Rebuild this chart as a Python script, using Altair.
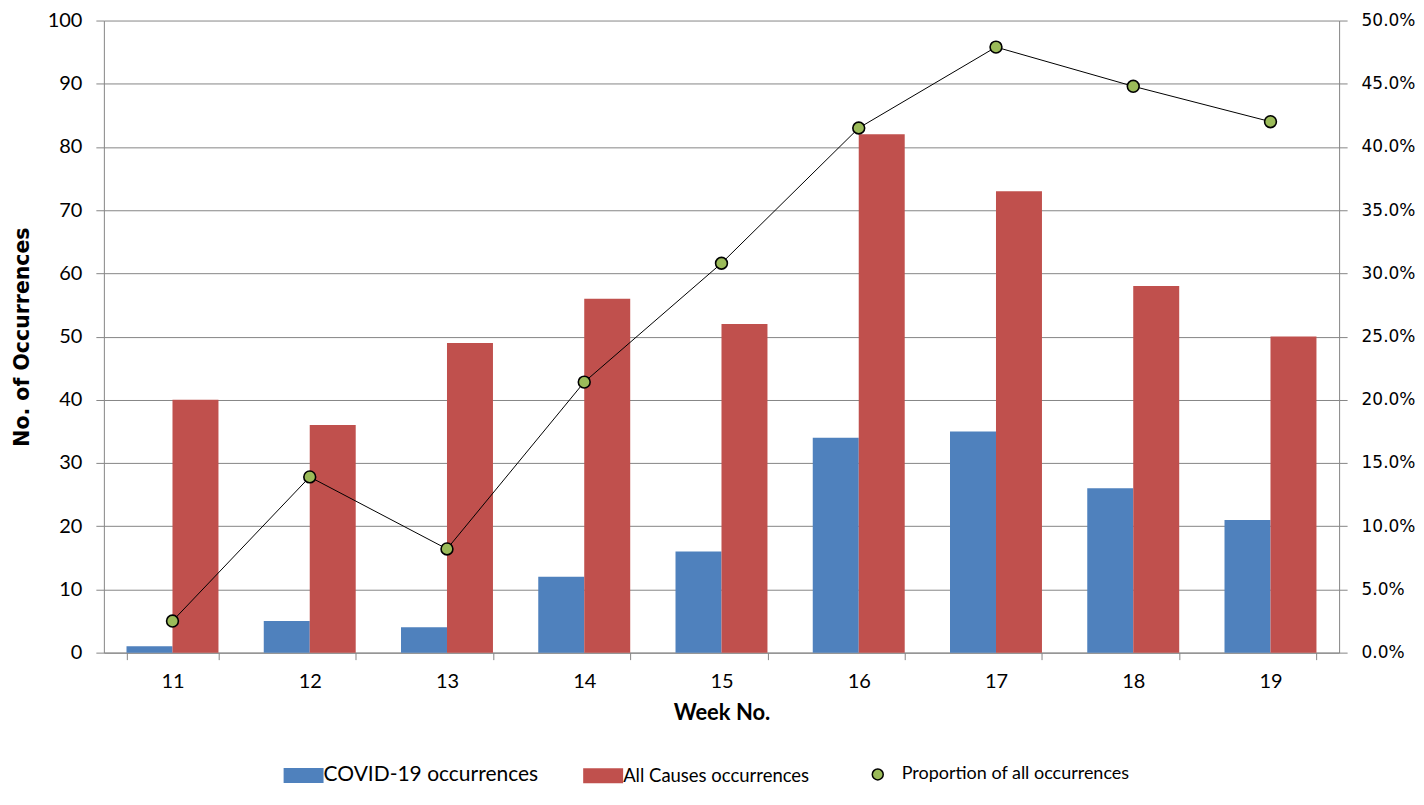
import altair as alt
import pandas as pd

weeks = ["11", "12", "13", "14", "15", "16", "17", "18", "19"]
covid = [1, 5, 4, 12, 16, 34, 35, 26, 21]
all_causes = [40, 36, 49, 56, 52, 82, 73, 58, 50]
proportion = [0.025, 0.139, 0.082, 0.214, 0.308, 0.415, 0.479, 0.448, 0.420]

s_covid = "COVID-19 occurrences"
s_all = "All Causes occurrences"
s_prop = "Proportion of all occurrences"

bars_df = pd.DataFrame({
    "week": weeks * 2,
    "series": [s_covid] * len(weeks) + [s_all] * len(weeks),
    "value": covid + all_causes,
})
prop_df = pd.DataFrame({"week": weeks, "prop": proportion, "label": [s_prop] * len(weeks)})

FONT = "Lato"
GRAY = "#868686"

x_enc = alt.X(
    "week:N",
    sort=weeks,
    scale=alt.Scale(paddingInner=0.33, paddingOuter=0.165),
    axis=alt.Axis(
        title="Week No.", tickBand="extent", labelAngle=0, labelFont=FONT, labelFontSize=20,
        labelColor="#000000", labelPadding=12, tickSize=7, tickColor=GRAY, domainColor=GRAY,
        titleFont=FONT, titleFontSize=22, titleFontWeight="bold", titleColor="#000000", titlePadding=11,
    ),
)

bars = alt.Chart(bars_df).mark_bar().encode(
    x=x_enc,
    xOffset=alt.XOffset("series:N", sort=[s_covid, s_all], scale=alt.Scale(paddingInner=0, paddingOuter=0)),
    y=alt.Y(
        "value:Q",
        scale=alt.Scale(domain=[0, 100], nice=False),
        axis=alt.Axis(
            title="No. of Occurrences", values=list(range(0, 101, 10)), grid=True, gridColor=GRAY,
            gridWidth=1, domainColor=GRAY, tickColor=GRAY, tickSize=8, labelFont=FONT, labelFontSize=20,
            labelColor="#000000", labelPadding=14, titleFont="DejaVu Sans", titleFontSize=20.5,
            titleFontWeight="bold", titleColor="#000000", titlePadding=15,
        ),
    ),
    color=alt.Color(
        "series:N",
        scale=alt.Scale(domain=[s_covid, s_all], range=["#4F81BD", "#C0504D"]),
        legend=alt.Legend(
            title=None, orient="none", legendX=180, legendY=736, direction="horizontal",
            symbolType="M-1,-0.375H1V0.375H-1Z", symbolSize=1600, symbolStrokeWidth=0,
            labelFont=FONT, labelFontSize={"expr": "datum.label == 'COVID-19 occurrences' ? 21 : 18.5"},
            labelColor="#000000", columnPadding=45, labelOffset=0, labelLimit=0,
        ),
    ),
)

y_right = alt.Y(
    "prop:Q",
    scale=alt.Scale(domain=[0, 0.5], nice=False),
    axis=alt.Axis(
        orient="right", title=None, values=[i * 0.05 for i in range(11)], format=".1%", grid=False,
        domainColor=GRAY, tickColor=GRAY, tickSize=8, labelFont="DejaVu Sans", labelFontSize=17,
        labelColor="#000000", labelPadding=14,
    ),
)

line = alt.Chart(prop_df).mark_line(color="#000000", strokeWidth=1).encode(x=x_enc, y=y_right)
points = alt.Chart(prop_df).mark_point(filled=True, size=140, stroke="#000000", strokeWidth=1.6, opacity=1).encode(
    x=x_enc,
    y=y_right,
    fill=alt.Fill(
        "label:N",
        scale=alt.Scale(domain=[s_prop], range=["#9BBB59"]),
        legend=alt.Legend(
            title=None, orient="none", legendX=766, legendY=746, direction="horizontal",
            symbolType="circle", symbolSize=120,
            symbolStrokeColor="#000000", symbolStrokeWidth=1.5, labelFont=FONT, labelFontSize=18,
            labelColor="#000000", labelOffset=15, labelLimit=0,
        ),
    ),
)

chart = (
    alt.layer(bars, line + points)
    .resolve_scale(y="independent", color="independent")
    .properties(width=1237, height=633, padding={"left": 4, "top": 2, "right": 0, "bottom": 0})
    .configure_view(stroke=None)
)

chart.save("out.html", embed_options={"renderer": "svg", "actions": False})
